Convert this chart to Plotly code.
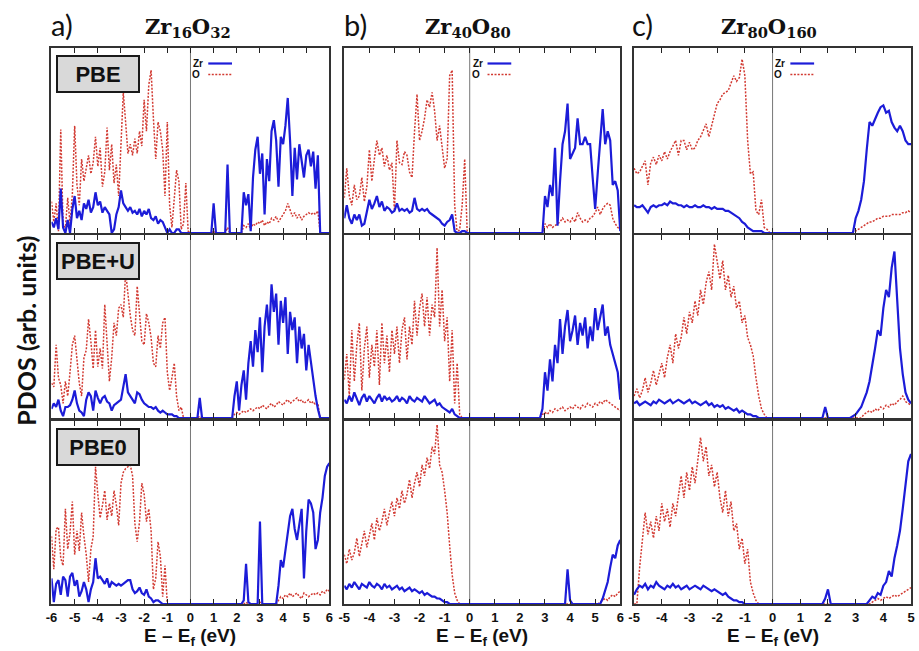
import plotly.graph_objects as go

W, H = 919, 651

# ---------------- data (arbitrary PDOS units, 0-100 of panel height) ----------------
# energy grids: valence lists start at E_min, conduction lists start at +0.1 eV, step 0.1 eV
EMIN = {"a": -6.0, "b": -5.0, "c": -5.0}
EMAX = {"a": 6.0, "b": 6.0, "c": 5.0}
TICKS_A = ["-6", "-5", "-4", "-3", "-2", "-1", "0", "1", "2", "3", "4", "5", "6"]
TICKS_B = ["-5", "-4", "-3", "-2", "-1", "0", "1", "2", "3", "4", "5", "6"]
TICKS_C = ["-5", "-4", "-3", "-2", "-1", "0", "1", "2", "3", "4", "5"]
TICKVALS_A = [-6, -5, -4, -3, -2, -1, 0, 1, 2, 3, 4, 5, 6]
TICKVALS_B = [-5, -4, -3, -2, -1, 0, 1, 2, 3, 4, 5, 6]
TICKVALS_C = [-5, -4, -3, -2, -1, 0, 1, 2, 3, 4, 5]

COLUMN_TITLES = ["Zr<sub>16</sub>O<sub>32</sub>", "Zr<sub>40</sub>O<sub>80</sub>", "Zr<sub>80</sub>O<sub>160</sub>"]
COLUMN_LETTERS = ["a)", "b)", "c)"]
METHODS = ["PBE", "PBE+U", "PBE0"]

# --- a) Zr16O32, PBE ---
O_A_PBE_VB = [17, 6, 16, 1, 56, 4, 3, 19, 5, 21, 58, 26, 15, 40, 28, 35, 42, 32, 38, 52,
              36, 46, 25, 33, 57, 34, 48, 27, 37, 20, 52, 76, 60, 43, 48, 42, 51, 43, 55, 47,
              72, 55, 80, 88, 62, 40, 60, 55, 45, 20, 60, 15, 3, 20, 34, 28, 2, 5, 27, 1, 0]
ZR_A_PBE_VB = [6, 3, 8, 2, 24, 3, 0, 7, 0, 13, 20, 8, 12, 7, 16, 13, 18, 11, 14, 22,
               15, 17, 11, 14, 12, 10, 0, 2, 10, 14, 23, 16, 14, 12, 14, 11, 12, 10, 13, 9,
               12, 10, 13, 8, 7, 9, 5, 7, 6, 3, 0, 2, 0, 0, 2, 2, 0, 0, 0, 0, 0]
ZR_A_PBE_CB = [0, 0, 0, 0, 0, 0, 0, 0, 0, 16, 0, 0, 0, 0, 0, 37, 0, 0, 0, 0, 0, 0,
               22, 15, 21, 1, 30, 45, 52, 32, 43, 10, 40, 28, 55, 61, 50, 25, 52, 48, 58, 73,
               50, 20, 46, 29, 48, 38, 30, 42, 45, 36, 44, 24, 42, 0, 0, 0, 0, 0]
O_A_PBE_CB = [0, 0, 0, 0, 0, 0, 0, 0, 0, 1, 0, 0, 0, 0, 0, 3, 0, 0, 0, 0, 0, 0,
              4, 3, 5, 2, 5, 4, 6, 5, 7, 4, 6, 5, 8, 7, 9, 6, 8, 10, 12, 16,
              12, 9, 11, 8, 10, 7, 9, 10, 11, 10, 11, 10, 12, 0, 0, 0, 0, 0]

# --- a) Zr16O32, PBE+U ---
O_A_PBEU_VB = [19, 17, 40, 22, 18, 8, 20, 12, 25, 40, 45, 30, 19, 12, 33, 37, 54, 42, 27, 48,
               28, 38, 27, 62, 40, 20, 33, 52, 45, 60, 62, 55, 80, 66, 56, 48, 45, 72, 57, 42,
               40, 57, 52, 44, 30, 28, 45, 38, 52, 55, 25, 15, 22, 30, 12, 4, 6, 0, 0, 0, 0]
ZR_A_PBEU_VB = [5, 8, 6, 10, 4, 1, 6, 6, 7, 10, 15, 8, 4, 3, 1, 10, 14, 12, 4, 15,
                11, 8, 11, 12, 9, 8, 4, 7, 8, 9, 10, 17, 24, 14, 12, 10, 8, 14, 13, 10,
                8, 7, 6, 6, 5, 6, 4, 3, 4, 3, 2, 2, 2, 1, 1, 0, 0, 0, 0, 0, 0]
ZR_A_PBEU_CB = [0, 0, 0, 11, 0, 0, 0, 0, 0, 0, 0, 0, 0, 0, 0, 0, 0, 0,
                12, 20, 4, 18, 26, 10, 30, 42, 28, 48, 36, 55, 25, 50, 62, 45, 73, 58, 68, 40,
                64, 52, 66, 35, 58, 48, 55, 30, 50, 38, 46, 26, 40, 30, 22, 12, 5, 0, 0, 0, 0, 0]
O_A_PBEU_CB = [0, 0, 0, 1, 0, 0, 0, 0, 0, 0, 0, 0, 0, 0, 0, 0, 0, 0,
               2, 3, 2, 3, 4, 3, 4, 5, 4, 5, 6, 5, 7, 6, 5, 7, 8, 6, 7, 9,
               8, 7, 9, 10, 8, 9, 10, 11, 9, 10, 8, 9, 10, 8, 9, 7, 8, 0, 0, 0, 0, 0]

# --- a) Zr16O32, PBE0 ---
O_A_PBE0_VB = [37, 19, 41, 42, 25, 21, 52, 30, 39, 56, 27, 40, 29, 50, 37, 27, 12, 30, 37, 75,
               60, 47, 54, 62, 46, 55, 48, 62, 54, 43, 66, 72, 74, 75, 76, 70, 44, 34, 45, 66,
               60, 45, 52, 40, 8, 14, 34, 26, 4, 21, 0, 0, 0, 0, 0, 0, 0, 0, 0, 0, 0]
ZR_A_PBE0_VB = [14, 1, 11, 13, 5, 15, 13, 4, 15, 17, 10, 13, 4, 7, 12, 8, 1, 8, 12, 25,
                14, 15, 13, 11, 14, 9, 12, 11, 10, 11, 10, 11, 12, 13, 13, 8, 6, 7, 9, 6,
                5, 8, 4, 3, 1, 2, 2, 1, 0, 0, 0, 0, 0, 0, 0, 0, 0, 0, 0, 0, 0]
ZR_A_PBE0_CB = [0, 0, 0, 0, 0, 0, 0, 0, 0, 0, 0, 0, 0, 0, 0, 0, 0, 0, 0, 0, 0, 0,
                2, 22, 1, 0, 0, 0, 0, 45, 0, 0, 0, 0, 0, 0, 0,
                10, 24, 20, 30, 40, 48, 52, 41, 35, 45, 52, 14, 40, 57, 55, 50, 30, 35, 50, 58,
                70, 75, 77]
O_A_PBE0_CB = [0, 0, 0, 0, 0, 0, 0, 0, 0, 0, 0, 0, 0, 0, 0, 0, 0, 0, 0, 0, 0, 0,
               0, 1, 0, 0, 0, 0, 0, 1, 0, 0, 0, 0, 0, 0, 0,
               2, 4, 3, 5, 4, 6, 4, 5, 6, 4, 3, 6, 5, 4, 5, 6, 5, 6, 5, 7, 6, 8, 7]

# --- b) Zr40O80, PBE ---
O_B_PBE_VB = [19, 35, 20, 15, 26, 18, 20, 30, 17, 25, 45, 28, 40, 50, 42, 46, 36, 42, 34, 38,
              12, 50, 38, 37, 44, 42, 33, 30, 55, 75, 50, 55, 62, 72, 68, 76, 66, 50, 58, 48,
              35, 40, 85, 88, 15, 0, 2, 15, 40, 0, 0]
ZR_B_PBE_VB = [8, 15, 8, 5, 10, 7, 10, 4, 5, 12, 18, 13, 16, 20, 14, 17, 12, 14, 13, 11,
               12, 16, 12, 13, 12, 13, 11, 12, 19, 13, 12, 13, 12, 13, 11, 10, 9, 8, 7, 5,
               4, 6, 7, 10, 1, 0, 0, 1, 1, 0, 0]
ZR_B_PBE_CB = [0] * 29 + [20, 14, 26, 20, 46, 4, 28, 48, 55, 70, 40, 43, 46, 62, 48, 48, 52, 48, 48, 30,
                          13, 32, 50, 67, 48, 55, 50, 26, 28, 23, 1]
O_B_PBE_CB = [0] * 29 + [5, 3, 5, 3, 4, 5, 6, 8, 6, 7, 6, 8, 6, 11, 8, 6, 7, 6, 8, 9,
                         11, 14, 10, 13, 15, 16, 15, 8, 5, 3, 2]

# --- b) Zr40O80, PBE+U ---
O_B_PBEU_VB = [21, 35, 12, 48, 20, 40, 52, 15, 38, 50, 22, 40, 28, 48, 18, 52, 30, 45, 25, 48,
               35, 50, 30, 48, 55, 32, 50, 40, 64, 45, 60, 68, 50, 66, 45, 62, 55, 93, 50, 70,
               42, 55, 20, 48, 8, 30, 2, 0, 0, 0, 0]
ZR_B_PBEU_VB = [10, 8, 12, 9, 14, 10, 7, 11, 13, 9, 12, 10, 8, 11, 13, 9, 12, 10, 11, 9,
                10, 12, 9, 11, 10, 8, 12, 10, 9, 11, 10, 9, 12, 10, 8, 9, 10, 7, 8, 6,
                5, 4, 3, 5, 2, 1, 0, 0, 0, 0, 0]
ZR_B_PBEU_CB = [0] * 28 + [5, 25, 15, 32, 20, 40, 30, 54, 35, 50, 59, 42, 48, 56, 40, 52, 45, 55, 38, 50,
                           42, 60, 48, 55, 62, 45, 50, 40, 35, 30, 25, 10]
O_B_PBEU_CB = [0] * 28 + [2, 3, 2, 4, 3, 5, 4, 5, 6, 4, 5, 6, 5, 7, 6, 5, 7, 6, 8, 7,
                          6, 8, 7, 9, 8, 10, 9, 8, 7, 6, 5, 4]

# --- b) Zr40O80, PBE0 ---
O_B_PBE0_VB = [27, 22, 30, 24, 28, 36, 26, 33, 40, 31, 37, 44, 35, 47, 40, 45, 52, 43, 50, 56,
               48, 58, 52, 62, 55, 60, 68, 58, 66, 72, 64, 76, 70, 80, 74, 86, 82, 98, 76, 72,
               62, 50, 32, 16, 6, 2, 0, 0, 0, 0, 0]
ZR_B_PBE0_VB = [10, 8, 11, 9, 12, 10, 8, 11, 10, 9, 12, 10, 9, 11, 10, 8, 11, 9, 10, 8,
                9, 10, 8, 9, 7, 8, 9, 7, 8, 7, 6, 7, 5, 6, 5, 4, 4, 3, 3, 2,
                1, 1, 0, 0, 0, 0, 0, 0, 0, 0, 0]
ZR_B_PBE0_CB = [0] * 38 + [19, 2] + [0] * 12 + [3, 8, 12, 20, 27, 25, 32, 35]
O_B_PBE0_CB = [0] * 51 + [1, 2, 3, 2, 4, 5, 4, 6, 7]

# --- c) Zr80O160, PBE ---
O_C_PBE_VB = [35, 32, 33, 36, 39, 26, 38, 41, 37, 42, 39, 44, 40, 44, 47, 50, 42, 50, 50, 45,
              49, 45, 46, 50, 52, 56, 59, 52, 58, 65, 70, 72, 75, 76, 77, 81, 85, 82, 84, 94,
              85, 50, 32, 33, 12, 10, 18, 3, 2, 0, 0]
ZR_C_PBE_VB = [15, 14, 14, 15, 13, 11, 14, 15, 14, 15, 15, 16, 15, 17, 16, 16, 15, 15, 14, 15,
               14, 14, 15, 14, 14, 15, 14, 14, 13, 14, 13, 13, 13, 12, 12, 11, 10, 9, 8, 6,
               5, 3, 2, 1, 1, 1, 1, 0, 0, 0, 0]
ZR_C_PBE_CB = [0] * 29 + [8, 12, 18, 28, 45, 60, 58, 62, 65, 68, 69, 65, 66, 60, 57, 55, 58, 55, 50, 48, 48]
O_C_PBE_CB = [0] * 29 + [1, 2, 3, 4, 5, 6, 6, 7, 8, 8, 9, 9, 9, 10, 10, 10, 10, 11, 11, 12, 11]

# --- c) Zr80O160, PBE+U ---
O_C_PBEU_VB = [12, 16, 11, 15, 22, 14, 19, 26, 18, 24, 30, 22, 33, 40, 30, 46, 38, 44, 55, 46,
               58, 52, 64, 56, 70, 62, 74, 80, 70, 95, 84, 76, 86, 70, 78, 66, 72, 60, 64, 52,
               56, 44, 40, 34, 22, 12, 5, 2, 0, 0, 0]
ZR_C_PBEU_VB = [8, 9, 7, 8, 9, 8, 7, 9, 8, 10, 9, 8, 9, 10, 8, 9, 10, 9, 8, 9,
                10, 8, 9, 8, 7, 8, 9, 7, 8, 6, 7, 6, 7, 5, 6, 5, 4, 5, 3, 4,
                3, 2, 2, 1, 1, 0, 0, 0, 0, 0, 0]
ZR_C_PBEU_CB = [0] * 18 + [6, 0] + [0] * 8 + [1, 2, 4, 6, 10, 14, 20, 28, 38, 48, 45, 60, 70, 66, 82, 91,
                                              62, 38, 24, 14, 10, 8]
O_C_PBEU_CB = [0] * 32 + [2, 3, 4, 3, 5, 4, 6, 5, 7, 6, 8, 7, 9, 10, 12, 9, 8, 7]

# --- c) Zr80O160, PBE0 ---
O_C_PBE0_VB = [0, 0, 20, 35, 50, 38, 45, 36, 48, 40, 55, 45, 52, 42, 55, 48, 60, 70, 58, 72,
               62, 75, 66, 80, 91, 78, 86, 70, 76, 64, 72, 58, 50, 62, 48, 56, 40, 44, 30, 36,
               22, 30, 12, 6, 2, 0, 0, 0, 0, 0, 0]
ZR_C_PBE0_VB = [5, 8, 10, 9, 11, 8, 10, 9, 12, 10, 9, 8, 10, 9, 11, 9, 10, 8, 9, 10,
                8, 9, 10, 9, 8, 10, 9, 8, 7, 8, 7, 6, 5, 6, 4, 3, 2, 2, 1, 1,
                0, 0, 0, 0, 0, 0, 0, 0, 0, 0, 0]
ZR_C_PBE0_CB = [0] * 18 + [3, 8, 0] + [0] * 13 + [2, 4, 3, 6, 5, 10, 12, 18, 15, 25, 32, 40, 52, 65, 78, 82]
O_C_PBE0_CB = [0] * 35 + [1, 2, 3, 2, 3, 4, 3, 4, 5, 4, 5, 6, 7, 8, 9]

PANELS = {
    ("a", 0): (O_A_PBE_VB, O_A_PBE_CB, ZR_A_PBE_VB, ZR_A_PBE_CB),
    ("a", 1): (O_A_PBEU_VB, O_A_PBEU_CB, ZR_A_PBEU_VB, ZR_A_PBEU_CB),
    ("a", 2): (O_A_PBE0_VB, O_A_PBE0_CB, ZR_A_PBE0_VB, ZR_A_PBE0_CB),
    ("b", 0): (O_B_PBE_VB, O_B_PBE_CB, ZR_B_PBE_VB, ZR_B_PBE_CB),
    ("b", 1): (O_B_PBEU_VB, O_B_PBEU_CB, ZR_B_PBEU_VB, ZR_B_PBEU_CB),
    ("b", 2): (O_B_PBE0_VB, O_B_PBE0_CB, ZR_B_PBE0_VB, ZR_B_PBE0_CB),
    ("c", 0): (O_C_PBE_VB, O_C_PBE_CB, ZR_C_PBE_VB, ZR_C_PBE_CB),
    ("c", 1): (O_C_PBEU_VB, O_C_PBEU_CB, ZR_C_PBEU_VB, ZR_C_PBEU_CB),
    ("c", 2): (O_C_PBE0_VB, O_C_PBE0_CB, ZR_C_PBE0_VB, ZR_C_PBE0_CB),
}

# ---------------- layout geometry (pixels) ----------------
COL_PX = {"a": (46, 327), "b": (342, 621), "c": (635, 915)}
ROW_PX = [(48, 233), (235, 418), (421, 604)]
TICKS = {"a": (TICKVALS_A, TICKS_A), "b": (TICKVALS_B, TICKS_B), "c": (TICKVALS_C, TICKS_C)}

ZR_COLOR = "#1c1cd8"
O_COLOR = "#d23a32"
O_DASH = "2px,1.5px"
FRAME = "#333333"


def fx(px):
    return px / W


def fy(py):
    return 1 - py / H


def grid(start, n):
    return [round(start + 0.1 * i, 2) for i in range(n)]


fig = go.Figure()
layout = {}
shapes = []
annotations = []

idx = 0
for ci, col in enumerate(["a", "b", "c"]):
    for ri in range(3):
        idx += 1
        xa = "x" if idx == 1 else f"x{idx}"
        ya = "y" if idx == 1 else f"y{idx}"
        o_vb, o_cb, zr_vb, zr_cb = PANELS[(col, ri)]
        ex_o = grid(EMIN[col], len(o_vb)) + grid(0.1, len(o_cb))
        ex_z = grid(EMIN[col], len(zr_vb)) + grid(0.1, len(zr_cb))
        fig.add_trace(go.Scatter(x=ex_o, y=o_vb + o_cb, mode="lines", xaxis=xa, yaxis=ya,
                                 line=dict(color=O_COLOR, width=1.5, dash=O_DASH),
                                 showlegend=False, hoverinfo="skip"))
        fig.add_trace(go.Scatter(x=ex_z, y=zr_vb + zr_cb, mode="lines", xaxis=xa, yaxis=ya,
                                 line=dict(color=ZR_COLOR, width=2.2),
                                 showlegend=False, hoverinfo="skip"))
        x0, x1 = COL_PX[col]
        y0, y1 = ROW_PX[ri]
        tv, tt = TICKS[col]
        layout["xaxis" if idx == 1 else f"xaxis{idx}"] = dict(
            domain=[fx(x0), fx(x1)], range=[EMIN[col], EMAX[col]], anchor=ya,
            tickvals=tv, ticktext=tt, ticks="inside", ticklen=5, tickwidth=1.2,
            tickcolor="#222", showline=True, linewidth=2, linecolor=FRAME, mirror="ticks",
            showgrid=False, zeroline=False, showticklabels=(ri == 2),
            tickfont=dict(family="Liberation Sans, Arial", size=13, color="#111", weight="bold"),
            fixedrange=True)
        layout["yaxis" if idx == 1 else f"yaxis{idx}"] = dict(
            domain=[fy(y1), fy(y0)], range=[0, 100], anchor=xa, showticklabels=False,
            ticks="", showline=True, linewidth=2, linecolor=FRAME, mirror=True,
            showgrid=False, zeroline=False, fixedrange=True)
        # Fermi level line
        shapes.append(dict(type="line", xref=xa, x0=0, x1=0, yref=f"{ya} domain", y0=0, y1=1,
                           line=dict(color="#777", width=1), layer="below"))
        # legend in top row
        if ri == 0:
            zx = x0 + (0 - EMIN[col]) / (EMAX[col] - EMIN[col]) * (x1 - x0)
            annotations.append(dict(text="Zr", x=fx(zx + 15), y=fy(63.5), xref="paper", yref="paper",
                                    xanchor="right", yanchor="middle", showarrow=False,
                                    font=dict(family="Liberation Sans, Arial", size=10, color="#111", weight="bold")))
            annotations.append(dict(text="O", x=fx(zx + 12), y=fy(74.5), xref="paper", yref="paper",
                                    xanchor="right", yanchor="middle", showarrow=False,
                                    font=dict(family="Liberation Sans, Arial", size=10, color="#111", weight="bold")))
            shapes.append(dict(type="line", xref="paper", yref="paper", x0=fx(zx + 18), x1=fx(zx + 42),
                               y0=fy(63.5), y1=fy(63.5), line=dict(color=ZR_COLOR, width=2.2)))
            shapes.append(dict(type="line", xref="paper", yref="paper", x0=fx(zx + 18), x1=fx(zx + 42),
                               y0=fy(74.5), y1=fy(74.5), line=dict(color=O_COLOR, width=1.5, dash=O_DASH)))
        # method boxes in column a
        if col == "a":
            annotations.append(dict(text=METHODS[ri], x=fx(93), y=fy(y0 + 25.5), xref="paper", yref="paper",
                                    xanchor="center", yanchor="middle", showarrow=False,
                                    width=78, height=32, bgcolor="#d9d9d9", bordercolor="#1a1a1a",
                                    borderwidth=2, borderpad=1,
                                    font=dict(family="Liberation Sans, Arial", size=22, color="#111", weight="bold")))

    # column headers and x titles
    x0, x1 = COL_PX[col]
    title_cx = {"a": 184, "b": 467, "c": 771}[col]
    letter_cx = {"a": 57, "b": 353, "c": 644}[col]
    annotations.append(dict(text=COLUMN_TITLES[ci], x=fx(title_cx), y=fy(27), xref="paper", yref="paper",
                            xanchor="center", yanchor="middle", showarrow=False,
                            font=dict(family="DejaVu Serif, Liberation Serif", size=21, color="#111", weight="bold")))
    annotations.append(dict(text=COLUMN_LETTERS[ci], x=fx(letter_cx), y=fy(25), xref="paper", yref="paper",
                            xanchor="center", yanchor="middle", showarrow=False,
                            font=dict(family="Lato, Open Sans", size=29, color="#111")))
    annotations.append(dict(text="E – E<sub>f</sub> (eV)", x=fx((x0 + x1) / 2), y=fy(637), xref="paper",
                            yref="paper", xanchor="center", yanchor="middle", showarrow=False,
                            font=dict(family="Liberation Sans, Arial", size=19, color="#111", weight="bold")))

annotations.append(dict(text="PDOS (arb. units)", x=fx(20), y=fy(331), xref="paper", yref="paper",
                        xanchor="center", yanchor="middle", showarrow=False, textangle=-90,
                        font=dict(family="Lato, Liberation Sans", size=25, color="#111", weight="bold")))

fig.update_layout(width=W, height=H, margin=dict(l=0, r=0, t=0, b=0), paper_bgcolor="white",
                  plot_bgcolor="white", showlegend=False, shapes=shapes, annotations=annotations, **layout)
fig.write_html("out.html")
